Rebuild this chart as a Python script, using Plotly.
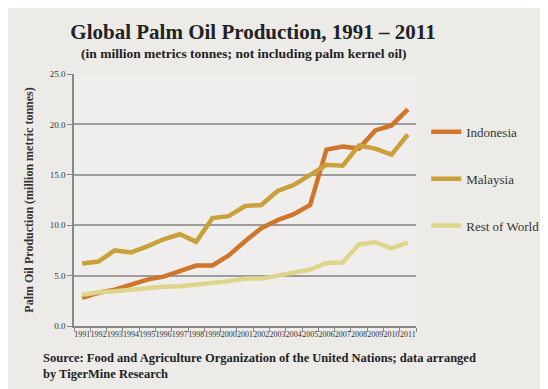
import plotly.graph_objects as go

years = [str(y) for y in range(1991, 2012)]
indonesia = [2.8, 3.3, 3.6, 4.1, 4.6, 4.9, 5.4, 6.0, 6.0, 7.0, 8.4, 9.7, 10.5, 11.1, 12.0, 17.5, 17.8, 17.6, 19.4, 19.9, 21.5]
malaysia = [6.2, 6.4, 7.5, 7.3, 7.9, 8.6, 9.1, 8.35, 10.7, 10.9, 11.9, 12.0, 13.4, 14.0, 15.0, 16.0, 15.9, 17.9, 17.6, 17.0, 19.0]
rest_of_world = [3.1, 3.35, 3.45, 3.6, 3.8, 3.9, 3.95, 4.1, 4.3, 4.45, 4.7, 4.7, 5.0, 5.3, 5.6, 6.25, 6.3, 8.1, 8.3, 7.7, 8.3]
y_ticks = [0, 5, 10, 15, 20, 25]
y_tick_labels = ["0.0", "5.0", "10.0", "15.0", "20.0", "25.0"]

series = [
    ("Indonesia", indonesia, "#D0762A"),
    ("Malaysia", malaysia, "#C9A13A"),
    ("Rest of World", rest_of_world, "#DDD58A"),
]

SERIF = "Liberation Serif, DejaVu Serif, serif"

fig = go.Figure()
for name, vals, col in series:
    fig.add_trace(go.Scatter(
        x=years, y=vals, name=name, mode="lines",
        line=dict(color=col, width=4.5), legendgroup=name,
    ))

fig.update_layout(
    width=548, height=389,
    margin=dict(l=66, r=112, t=66, b=71),
    paper_bgcolor="#ECEBE8",
    plot_bgcolor="#EFEEEC",
    font=dict(family=SERIF, color="#333333"),
    showlegend=True,
    legend=dict(
        x=1.03, y=0.83, xanchor="left", yanchor="top",
        bgcolor="rgba(0,0,0,0)", font=dict(size=13, color="#333333", family=SERIF),
        tracegroupgap=27, itemwidth=30,
    ),
    title=dict(
        text="<b>Global Palm Oil Production, 1991 – 2011</b>",
        x=245 / 548, xanchor="center", y=1 - 24 / 389, yanchor="middle",
        font=dict(size=21, color="#222222", family=SERIF),
    ),
)

fig.update_xaxes(
    type="category", tickson="boundaries", ticks="outside", ticklen=4,
    tickcolor="#888888", showline=True, linecolor="#888888", linewidth=1.5,
    showgrid=False, tickfont=dict(size=8, color="#333333", family=SERIF),
    tickangle=0, range=[-0.5, 20.5],
)
fig.update_yaxes(
    range=[0, 25], tickvals=y_ticks, ticktext=y_tick_labels,
    ticks="outside", ticklen=5, tickcolor="#888888",
    showline=True, linecolor="#888888", linewidth=1.5,
    showgrid=True, gridcolor="#9C9C9C", gridwidth=1.5,
    zeroline=False, tickfont=dict(size=9, color="#333333", family=SERIF),
    title=dict(text="<b>Palm Oil Production (million metric tonnes)</b>",
               font=dict(size=12, color="#333333", family=SERIF), standoff=14),
)

fig.add_annotation(
    text="<b>(in million metrics tonnes; not including palm kernel oil)</b>",
    xref="paper", yref="paper", x=(250 - 66) / 370, y=1 + (66 - 45) / 252,
    xanchor="center", yanchor="middle", showarrow=False,
    font=dict(size=13.5, color="#222222", family=SERIF),
)
fig.add_annotation(
    text="<b>Source: Food and Agriculture Organization of the United Nations; data arranged<br>by TigerMine Research</b>",
    xref="paper", yref="paper", x=(30 - 66) / 370, y=-23 / 252,
    xanchor="left", yanchor="top", align="left", showarrow=False,
    font=dict(size=12.5, color="#222222", family=SERIF),
)

fig.write_html("out.html")
